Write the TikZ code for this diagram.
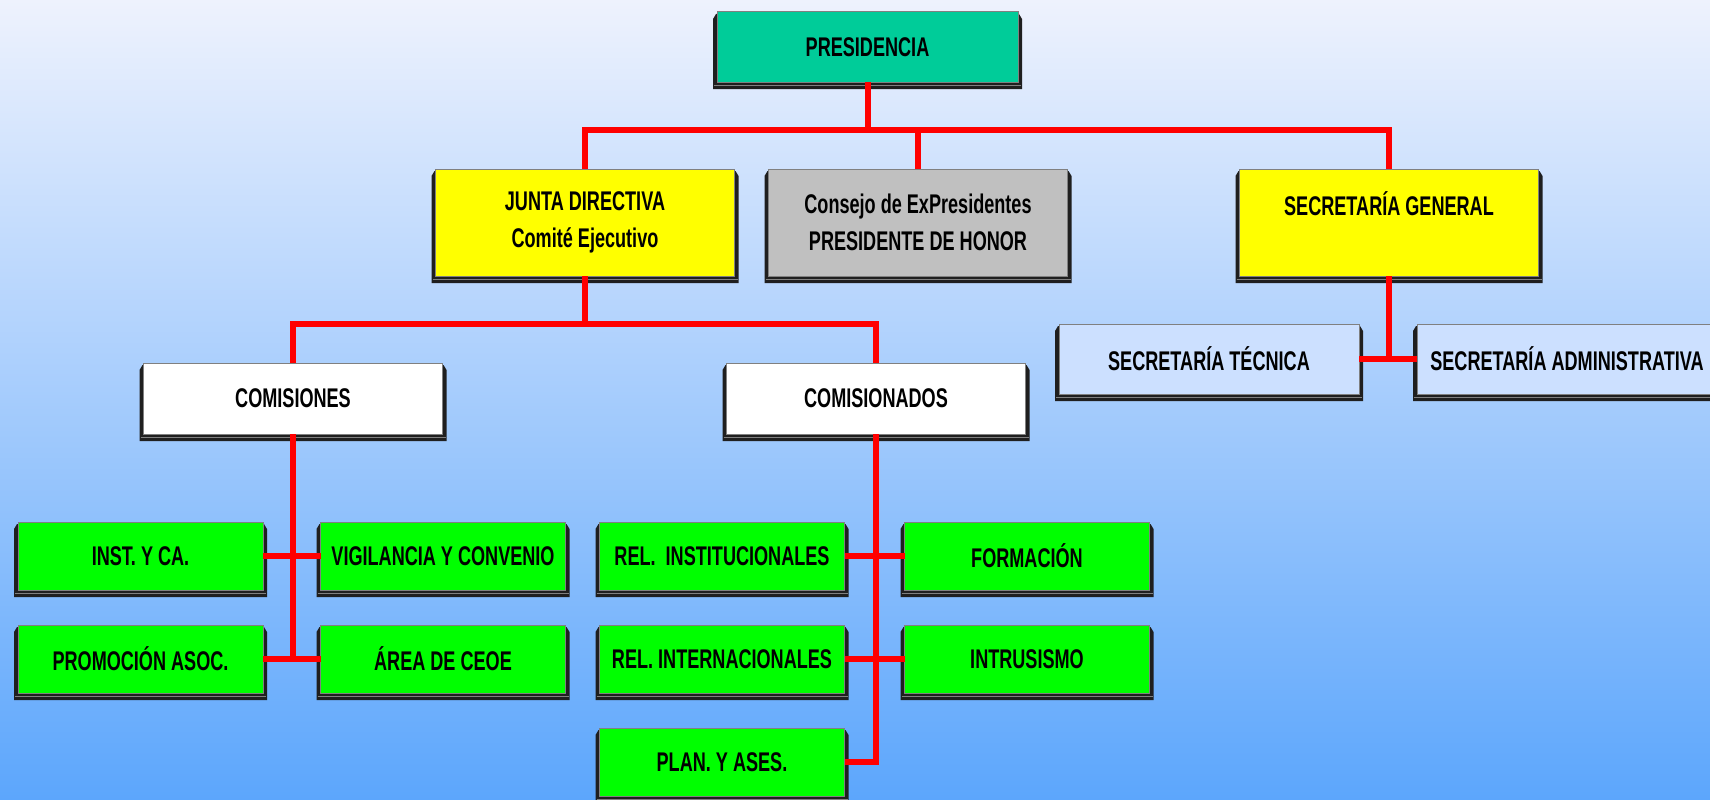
\documentclass[tikz,border=0pt]{standalone}
\usepackage{fontspec}
\setmainfont{Liberation Sans}[FakeStretch=0.67]
\usetikzlibrary{backgrounds,calc}
\definecolor{bgtop}{RGB}{238,242,253}
\definecolor{bgbot}{RGB}{92,166,252}
\definecolor{presfill}{RGB}{0,204,153}
\definecolor{yelfill}{RGB}{255,255,0}
\definecolor{grayfill}{RGB}{192,192,192}
\definecolor{bluefill}{RGB}{204,224,255}
\definecolor{grnfill}{RGB}{0,255,0}
\definecolor{conred}{RGB}{255,0,0}
\definecolor{edgegray}{RGB}{128,128,128}
\tikzset{
  box/.style={draw=edgegray, line width=1pt, inner sep=0pt, outer sep=0pt,
    align=center, font=\fontsize{27}{37}\selectfont\bfseries, text=black},
  bigbox/.style={box, minimum width=299pt, minimum height=107pt},
  midbox/.style={box, minimum width=299pt, minimum height=71pt},
  smallbox/.style={box, minimum width=245pt, minimum height=68pt},
  conn/.style={draw=conred, line width=6pt, line join=miter}
}
\begin{document}
\begin{tikzpicture}[x=1pt,y=-1pt]
\useasboundingbox (0,0) rectangle (1710,800);
\begin{scope}[on background layer]
  \shade[top color=bgtop, bottom color=bgbot] (0,0) rectangle (1710,800);
\end{scope}

\node[box, fill=presfill, minimum width=301pt, minimum height=70pt] (pres) at (867.5,47) {PRESIDENCIA};
\node[bigbox, fill=yelfill] (junta) at (585,222.5) {JUNTA DIRECTIVA\\Comité Ejecutivo};
\node[bigbox, fill=grayfill] (consejo) at (918,222.5) {Consejo de ExPresidentes\\PRESIDENTE DE HONOR};
\node[bigbox, fill=yelfill] (secgen) at (1389,222.5) {SECRETARÍA GENERAL\\\mbox{}};
\node[midbox, fill=white] (comis) at (293,398.5) {COMISIONES};
\node[midbox, fill=white] (comisdos) at (876,398.5) {COMISIONADOS};
\node[box, fill=bluefill, minimum width=300pt, minimum height=70pt] (tec) at (1209,359) {SECRETARÍA TÉCNICA};
\node[box, fill=bluefill, minimum width=300pt, minimum height=70pt] (adm) at (1567,359) {SECRETARÍA ADMINISTRATIVA};
\node[smallbox, fill=grnfill] (inst) at (140.5,556) {INST. Y CA.};
\node[smallbox, fill=grnfill] (vig) at (443,556) {VIGILANCIA Y CONVENIO};
\node[smallbox, fill=grnfill] (prom) at (140.5,659) {PROMOCIÓN ASOC.};
\node[smallbox, fill=grnfill] (area) at (443,659) {ÁREA DE CEOE};
\node[smallbox, fill=grnfill] (relinst) at (722,556) {REL.\ \ INSTITUCIONALES};
\node[smallbox, fill=grnfill] (form) at (1027,556) {FORMACIÓN};
\node[smallbox, fill=grnfill] (relint) at (722,659) {REL. INTERNACIONALES};
\node[smallbox, fill=grnfill] (intr) at (1027,659) {INTRUSISMO};
\node[smallbox, fill=grnfill] (plan) at (722,762) {PLAN. Y ASES.};

\begin{scope}[on background layer]
\foreach \n in {pres,junta,consejo,secgen,comis,comisdos,tec,adm,inst,vig,prom,area,relinst,form,relint,intr,plan}{
  \fill[black!88] ([shift={(-4,7)}]\n.north west) -- ([shift={(-1,2)}]\n.north west)
     -- ([shift={(1,2)}]\n.north east) -- ([shift={(4,7)}]\n.north east)
     -- ([shift={(4,7)}]\n.south east) -- ([shift={(-4,7)}]\n.south west) -- cycle;
  \draw[edgegray, line width=0.8pt] ([shift={(-3,3.5)}]\n.south west) -- ([shift={(3,3.5)}]\n.south east);
}
\end{scope}

\coordinate (b1) at (867.5,130);
\coordinate (b2) at (585,324);
\draw[conn] (pres.south) -- (b1);
\draw[conn] (junta.north) -- (junta.north |- b1) -- (secgen.north |- b1) -- (secgen.north);
\draw[conn] (consejo.north) -- (consejo.north |- b1);
\draw[conn] (junta.south) -- (b2);
\draw[conn] (comis.north) |- (b2) -| (comisdos.north);
\draw[conn] (comis.south) -- (comis.south |- prom.east);
\draw[conn] (inst.east) -- (vig.west);
\draw[conn] (prom.east) -- (area.west);
\draw[conn] (comisdos.south) |- (plan.east);
\draw[conn] (relinst.east) -- (form.west);
\draw[conn] (relint.east) -- (intr.west);
\draw[conn] (secgen.south) -- (secgen.south |- tec.east);
\draw[conn] (tec.east) -- (adm.west);
\end{tikzpicture}
\end{document}
